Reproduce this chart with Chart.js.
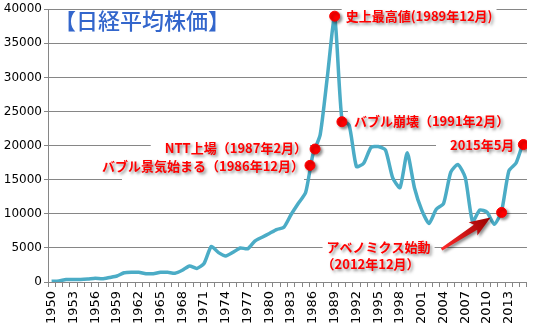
<!DOCTYPE html>
<html>
<head>
<meta charset="utf-8">
<script src="https://cdn.jsdelivr.net/npm/chart.js@4.4.1/dist/chart.umd.min.js"></script>
<style>
  html, body { margin: 0; padding: 0; background: #fff; }
  #wrap { width: 543px; height: 323px; }
</style>
</head>
<body>
<div id="wrap"><canvas id="c" width="543" height="323"></canvas></div>
<script>
// year-end Nikkei 225 closing values (yen)
const years = ['1950','1951','1952','1953','1954','1955','1956','1957','1958','1959',
  '1960','1961','1962','1963','1964','1965','1966','1967','1968','1969',
  '1970','1971','1972','1973','1974','1975','1976','1977','1978','1979',
  '1980','1981','1982','1983','1984','1985','1986','1987','1988','1989',
  '1990','1991','1992','1993','1994','1995','1996','1997','1998','1999',
  '2000','2001','2002','2003','2004','2005','2006','2007','2008','2009',
  '2010','2011','2012','2013','2014','2015'];

const nikkei = [102, 166, 363, 378, 356, 426, 549, 475, 667, 875,
  1357, 1433, 1420, 1225, 1217, 1418, 1430, 1283, 1715, 2359,
  1987, 2714, 5208, 4307, 3817, 4359, 4991, 4866, 6002, 6569,
  7116, 7682, 8017, 9894, 11543, 13113, 18701, 21564, 30159, 38916,
  23849, 22984, 16925, 17417, 19723, 19868, 19361, 15259, 13842, 18934,
  13786, 10543, 8579, 10677, 11489, 16111, 17226, 15308, 8860, 10546,
  10229, 8455, 10395, 16291, 17451, 20563];

// annotated events (position on the year axis, value)
const eventX = [1985.6, 1986.3, 1989.0, 1990.0, 2012.0, 2015.0];
const eventY = [17100, 19500, 38980, 23500, 10200, 20150];
const eventText = [
  ['バブル景気始まる（1986年12月）'],
  ['NTT上場（1987年2月）'],
  ['史上最高値(1989年12月)'],
  ['バブル崩壊（1991年2月）'],
  ['アベノミクス始動', '（2012年12月）'],
  ['2015年5月']
];

const yTicks = [0, 5000, 10000, 15000, 20000, 25000, 30000, 35000, 40000];
const chartTitle = '【日経平均株価】';

const GRID = '#868686';
const RED = '#ff0000';
const LABEL_FONT = 'bold 13px "Noto Sans CJK JP", sans-serif';

// label placement relative to each event marker: dx, dy, align, box padding [l, t, r, b]
const labelLayout = [
  { dx: -6, dy: 1, align: 'right', pad: [-20, 10, 0, 15] },
  { dx: -8, dy: -1, align: 'right', pad: [14, 10, 3, 8] },
  { dx: 11, dy: 0, align: 'left', pad: [4, 6, 4, 6] },
  { dx: 12, dy: -1, align: 'left', pad: [6, 15, 30, 12] },
  { dx: -123, dy: 35, align: 'center', lineGap: 17, pad: [4, 6, 4, 6] },
  { dx: -9, dy: 0, align: 'right', pad: [14, 12, 4, 12] }
];

function markerPixel(chart, i) {
  const xs = chart.scales.xm, ys = chart.scales.y;
  return { x: xs.getPixelForValue(eventX[i]), y: ys.getPixelForValue(eventY[i]) };
}

function labelBoxes(chart) {
  const ctx = chart.ctx;
  ctx.save();
  ctx.font = LABEL_FONT;
  const out = eventText.map((lines, i) => {
    const p = markerPixel(chart, i);
    const L = labelLayout[i];
    const gap = L.lineGap || 15;
    const w = Math.max(...lines.map(t => ctx.measureText(t).width));
    const cx = p.x + L.dx;
    const top = p.y + L.dy - 8;
    const h = gap * (lines.length - 1) + 16;
    let left = L.align === 'left' ? cx : (L.align === 'right' ? cx - w : cx - w / 2);
    return { p, L, lines, gap, cx, left, top, w, h };
  });
  ctx.restore();
  return out;
}

const annotationPlugin = {
  id: 'annotations',
  beforeDatasetsDraw(chart) {
    const ctx = chart.ctx;
    ctx.save();
    ctx.fillStyle = '#fff';
    labelBoxes(chart).forEach(b => {
      const [pl, pt, pr, pb] = b.L.pad;
      ctx.fillRect(b.left - pl, b.top - pt, b.w + pl + pr, b.h + pt + pb);
    });
    ctx.restore();
  },
  beforeDatasetDraw(chart, args) {
    if (args.index === 1) {
      chart.ctx.save();
      chart.ctx.shadowColor = 'rgba(0,0,0,0.45)';
      chart.ctx.shadowBlur = 3;
      chart.ctx.shadowOffsetX = 2;
      chart.ctx.shadowOffsetY = 2;
    }
  },
  afterDatasetDraw(chart, args) {
    if (args.index === 1) chart.ctx.restore();
  },
  afterDatasetsDraw(chart) {
    const ctx = chart.ctx;
    ctx.save();
    ctx.shadowColor = 'rgba(0,0,0,0.45)';
    ctx.shadowBlur = 3;
    ctx.shadowOffsetX = 2;
    ctx.shadowOffsetY = 2;

    // arrow toward the Abenomics marker
    const p = markerPixel(chart, 4);
    const tip = { x: p.x - 11, y: p.y + 5 };
    const tail = { x: p.x - 60, y: p.y + 37 };
    const ang = Math.atan2(tip.y - tail.y, tip.x - tail.x);
    const len = Math.hypot(tip.x - tail.x, tip.y - tail.y);
    ctx.translate(tail.x, tail.y);
    ctx.rotate(ang);
    const g = ctx.createLinearGradient(0, 0, len, 0);
    g.addColorStop(0, '#ff2a2a');
    g.addColorStop(1, '#9a0000');
    ctx.fillStyle = g;
    ctx.beginPath();
    ctx.moveTo(0, -1.4);
    ctx.lineTo(len - 18, -3);
    ctx.lineTo(len - 21, -8);
    ctx.lineTo(len, 0);
    ctx.lineTo(len - 21, 8);
    ctx.lineTo(len - 18, 3);
    ctx.lineTo(0, 1.4);
    ctx.closePath();
    ctx.fill();
    ctx.setTransform(1, 0, 0, 1, 0, 0);

    ctx.font = LABEL_FONT;
    ctx.fillStyle = RED;
    ctx.textBaseline = 'middle';
    labelBoxes(chart).forEach(b => {
      ctx.textAlign = b.L.align;
      b.lines.forEach((t, k) => {
        ctx.fillText(t, b.cx - (b.L.align === 'center' ? k * 8 : 0), b.p.y + b.L.dy + k * b.gap);
      });
    });
    ctx.restore();

    // title
    ctx.save();
    ctx.font = '500 22px "Noto Sans CJK JP", sans-serif';
    ctx.fillStyle = '#3366cc';
    ctx.textBaseline = 'middle';
    ctx.textAlign = 'left';
    ctx.fillText(chartTitle, 54, 21);
    ctx.restore();
  }
};

new Chart(document.getElementById('c'), {
  type: 'line',
  data: {
    labels: years,
    datasets: [{
      label: '日経平均株価',
      data: nikkei,
      borderColor: '#4bacc6',
      borderWidth: 3.5,
      pointRadius: 0,
      tension: 0.2,
      order: 1
    }, {
      label: 'events',
      type: 'scatter',
      xAxisID: 'xm',
      data: eventX.map((x, i) => ({ x: x, y: eventY[i] })),
      backgroundColor: RED,
      borderColor: RED,
      pointRadius: 5,
      order: 0
    }]
  },
  options: {
    responsive: false,
    animation: false,
    events: [],
    layout: { padding: { top: 8, right: 3, left: 0, bottom: 0 } },
    plugins: {
      legend: { display: false },
      tooltip: { enabled: false },
      title: { display: false }
    },
    scales: {
      x: {
        type: 'category',
        offset: true,
        grid: { offset: true, drawOnChartArea: false, drawTicks: true, tickLength: 5, color: GRID },
        border: { color: GRID, width: 1 },
        ticks: {
          autoSkip: false,
          minRotation: 90,
          maxRotation: 90,
          padding: 4,
          color: '#000',
          font: { family: 'DejaVu Sans', size: 13 },
          callback: (v, i) => (i % 3 === 0 ? years[i] : '')
        },
        afterFit: s => { s.height = 41; }
      },
      xm: {
        type: 'linear',
        display: false,
        min: 1949.5,
        max: 2015.5
      },
      y: {
        min: yTicks[0],
        max: yTicks[yTicks.length - 1],
        afterBuildTicks: s => { s.ticks = yTicks.map(v => ({ value: v })); },
        grid: { color: GRID, tickLength: 4 },
        border: { color: GRID, width: 1 },
        ticks: {
          padding: 2,
          color: '#000',
          font: { family: 'DejaVu Sans', size: 12 },
          callback: v => String(v)
        },
        afterFit: s => { s.width = 48; }
      }
    }
  },
  plugins: [annotationPlugin]
});
</script>
</body>
</html>
